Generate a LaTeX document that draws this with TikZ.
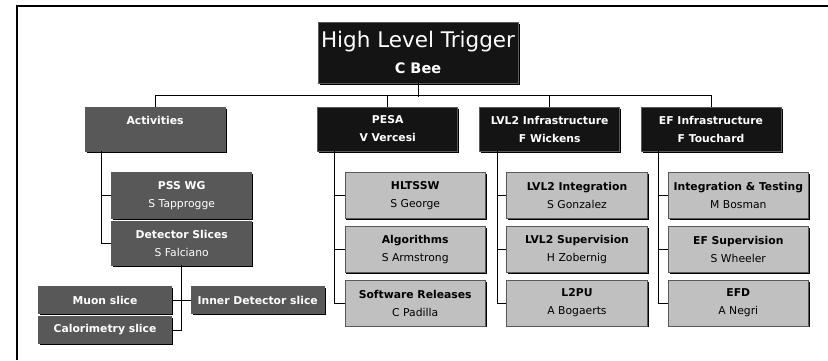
\documentclass[tikz,border=0pt]{standalone}
\usepackage{fontspec}
\setmainfont{DejaVu Sans}
\usetikzlibrary{shadows}
\definecolor{boxblack}{HTML}{141414}
\definecolor{boxdark}{HTML}{585858}
\definecolor{boxlight}{HTML}{C0C0C0}
\tikzset{
  box/.style={draw=gray!70!black, line width=0.6pt, align=center, inner sep=0pt,
    drop shadow={shadow xshift=1.5pt, shadow yshift=-1.5pt, fill=black, opacity=1},
    font=\fontsize{10.8}{18}\selectfont},
  blackbox/.style={box, fill=boxblack, text=white, minimum width=140pt, minimum height=44pt},
  darkbox/.style={box, fill=boxdark, text=white},
  lightbox/.style={box, fill=boxlight, text=black, minimum width=140.5pt, minimum height=45.6pt},
  slicebox/.style={darkbox, minimum width=133.4pt, minimum height=27pt},
  conn/.style={line width=0.6pt, black}
}
\begin{document}
\begin{tikzpicture}[x=1pt,y=-1pt]
\useasboundingbox (0,0) rectangle (828,360);
\fill[white] (0,0) rectangle (828,360);
\draw[line width=1.3pt] (17,360) -- (17,6) -- (828,6);

\node[box, fill=boxblack, text=white, minimum width=200pt, minimum height=61pt,
  font=\fontsize{21.5}{28}\selectfont] (hlt) at (418,52.5)
  {High Level Trigger\\[-2pt]{\fontsize{14.5}{16}\selectfont\bfseries C Bee}};

\node[darkbox, minimum width=140pt, minimum height=44pt] (act) at (155,129) {\bfseries Activities\\\mbox{}};
\node[blackbox] (pesa) at (387.7,129) {\bfseries PESA\\\bfseries V Vercesi};
\node[blackbox] (lvl) at (549.7,129) {\bfseries LVL2 Infrastructure\\\bfseries F Wickens};
\node[blackbox] (ef) at (711,129) {\bfseries EF Infrastructure\\\bfseries F Touchard};

\node[darkbox, minimum width=140pt, minimum height=45.6pt] (pss) at (181.7,195.5) {\bfseries PSS WG\\S Tapprogge};
\node[darkbox, minimum width=140pt, minimum height=44.3pt] (det) at (181.7,243) {\bfseries Detector Slices\\S Falciano};

\node[slicebox] (muon) at (105,300) {\bfseries Muon slice};
\node[slicebox] (cal) at (105,330) {\bfseries Calorimetry slice};
\node[slicebox] (inner) at (257.7,300) {\bfseries Inner Detector slice};

\node[lightbox] (hltssw) at (415.2,195.5) {\bfseries HLTSSW\\S George};
\node[lightbox] (alg) at (415.2,249.5) {\bfseries Algorithms\\S Armstrong};
\node[lightbox] (swr) at (415.2,303) {\bfseries Software Releases\\C Padilla};

\node[lightbox] (l2i) at (577,195.5) {\bfseries LVL2 Integration\\S Gonzalez};
\node[lightbox] (l2s) at (577,249.5) {\bfseries LVL2 Supervision\\H Zobernig};
\node[lightbox] (l2pu) at (577,303) {\bfseries L2PU\\A Bogaerts};

\node[lightbox] (eft) at (738.3,195.5) {\bfseries Integration \& Testing\\M Bosman};
\node[lightbox] (efs) at (738.3,249.5) {\bfseries EF Supervision\\S Wheeler};
\node[lightbox] (efd) at (738.3,303) {\bfseries EFD\\A Negri};

% top bus
\draw[conn] (hlt.south) -- ++(0,13.5);
\draw[conn] (act.north) -- ++(0,-11) -| (ef.north);
\draw[conn] (pesa.north) -- ++(0,-11);
\draw[conn] (lvl.north) -- ++(0,-11);

% activities
\draw[conn] ([xshift=16.7pt]act.south west) |- (pss.west);
\draw[conn] ([xshift=16.7pt]act.south west) |- (det.west);
% slices
\draw[conn] (det.south) |- (cal.east);
\draw[conn] (muon.east) -- (inner.west);
% PESA
\draw[conn] ([xshift=17.3pt]pesa.south west) |- (hltssw.west);
\draw[conn] ([xshift=17.3pt]pesa.south west) |- (alg.west);
\draw[conn] ([xshift=17.3pt]pesa.south west) |- (swr.west);
% LVL2
\draw[conn] ([xshift=17.4pt]lvl.south west) |- (l2i.west);
\draw[conn] ([xshift=17.4pt]lvl.south west) |- (l2s.west);
\draw[conn] ([xshift=17.4pt]lvl.south west) |- (l2pu.west);
% EF
\draw[conn] ([xshift=17.4pt]ef.south west) |- (eft.west);
\draw[conn] ([xshift=17.4pt]ef.south west) |- (efs.west);
\draw[conn] ([xshift=17.4pt]ef.south west) |- (efd.west);
\end{tikzpicture}
\end{document}
